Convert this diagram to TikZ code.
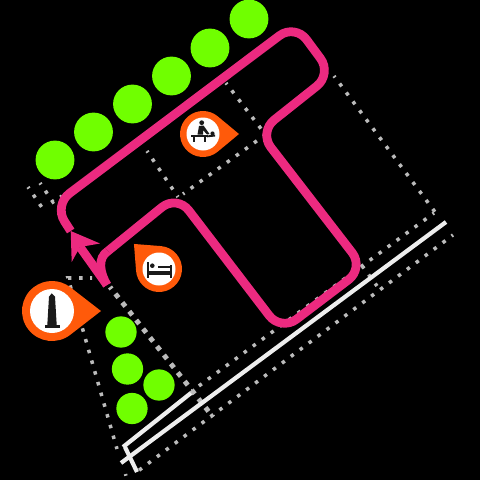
\documentclass[tikz,border=0pt]{standalone}
\usepackage{xcolor}
\usetikzlibrary{arrows.meta,calc,positioning}
\definecolor{routepink}{HTML}{EC2A80}
\definecolor{pinorange}{HTML}{FF5A0A}
\definecolor{treegreen}{HTML}{70FF00}
\definecolor{dotgrey}{HTML}{BBBBBB}
\definecolor{roadwhite}{HTML}{EEEEEE}
\definecolor{iconblack}{HTML}{1A1A1A}
\tikzset{
  plotdot/.style={draw=dotgrey,line width=2pt,dash pattern=on 2pt off 4.35pt,dash phase=1pt},
  plotbig/.style={draw=dotgrey,line width=2.8pt,dash pattern=on 2.8pt off 3.55pt,dash phase=1.4pt},
  roadline/.style={draw=roadwhite,line width=2.4pt},
  routestem/.style={draw=routepink,line width=5pt},
  routeline/.style={routestem,rounded corners=11pt},
  treebig/.style={circle,fill=treegreen,inner sep=0pt,minimum size=22.1pt},
  treesmall/.style={circle,fill=treegreen,inner sep=0pt,minimum size=17.8pt},
  iconfill/.style={fill=iconblack}
}
% centre x, centre y, outer radius, white radius, tip distance, tip direction
\newcommand{\pinmark}[6]{
  \pgfmathsetmacro{\pinang}{acos(#3/#5)}
  \begin{scope}[shift={(#1,#2)},rotate=#6]
    \fill[pinorange] (\pinang:#3) arc[start angle=\pinang,end angle=360-\pinang,radius=#3] -- (#5,0) -- cycle;
    \fill[white] (0,0) circle[radius=#4];
  \end{scope}
}

\begin{document}
\begin{tikzpicture}[x=.02cm,y=-.02cm]
  \useasboundingbox[fill=black] (0,0) rectangle (480,480);
  % plot boundaries
  \draw[plotdot] (28,187)--(43,209);
  \draw[plotdot] (40,183)--(53,202)--(62,196);
  \draw[plotdot] (147,151)--(178,197);
  \draw[plotdot] (183,194)--(265,135);
  \draw[plotdot] (226,83)--(262,130);
  \draw[plotdot] (334,76)--(435,212);
  \draw[plotdot] (434,213)--(192,391);
  \draw[plotdot] (453,235)--(134,474);
  \draw[plotdot] (125.5,474)--(127,480);
  \draw[plotdot] (363,267)--(377,286);
  \draw[plotdot] (92,278)--(68,278)--(117,449);
  \draw[plotbig] (110,287)--(213,417);
  % road
  \draw[roadline] (191,393)--(123,447);
  \draw[roadline] (446,222)--(121,463);
  \draw[roadline] (125,447)--(137,472);
  % trees
  \foreach \x/\y [count=\i] in {55/160,93.5/132,132.5/104,171.5/76,210/48,249/19}
    \node[treebig] (big\i) at (\x,\y) {};
  \foreach \x/\y [count=\i] in {121/332,127.5/369,159/385,132/408.5}
    \node[treesmall] (small\i) at (\x,\y) {};
  % route
  \coordinate (routestart) at (107,285);
  \coordinate (routebend) at (108,251);
  \coordinate (headtip) at (70.7,231);
  \coordinate (headnotch) at (80,247);
  \draw[routestem] (routestart) .. controls (100,273) and (97,258) .. (routebend);
  \draw[routeline] (routebend)--(177,195)--(281,331)--(364,268)--(259,132)--(332,74)--(295,24)--(54,205)--(headtip);
  \draw[routestem] (routestart)--(headnotch);
  \fill[routepink] (headtip)--(100,243.5)--(headnotch)--(71.7,262)--cycle;
  % massage
  \pinmark{203}{134}{23}{16.5}{36}{0}
  \fill[iconfill] (201.7,122.7) circle[radius=2.4];
  \fill[iconfill] (199,126)--(203.5,125.5)--(209.5,134)--(207,134.5)--(203,130)--(203,134.5)--(197.5,134.5)--cycle;
  \fill[iconfill] (190.7,135.3) rectangle (207.5,137.3);
  \fill[iconfill] (193,137) rectangle (194.6,141.5);
  \fill[iconfill] (204.3,137) rectangle (205.9,141.5);
  \fill[iconfill] (212.5,133.5) circle[radius=2.1];
  \fill[iconfill] (207,135.5)--(215,134.5)--(215,136.5)--(207,137.3)--cycle;
  % bed
  \pinmark{159}{269}{23}{16.5}{35.4}{135}
  \fill[iconfill] (147,261.7) rectangle (148.6,277.7);
  \fill[iconfill] (170,265) rectangle (171.6,277.7);
  \fill[iconfill] (148,271) rectangle (171,275);
  \fill[iconfill] (152.3,265.7) circle[radius=2.3];
  \fill[iconfill] (158,265.7) rectangle (170,268.3);
  % obelisk
  \pinmark{52}{311}{30}{22}{49}{0}
  \fill[iconfill] (51.7,293.3)--(55,296.7)--(56.7,325)--(47.3,325)--(49,296.7)--cycle;
  \fill[iconfill] (45,325) rectangle (60,327.7);
\end{tikzpicture}
\end{document}
